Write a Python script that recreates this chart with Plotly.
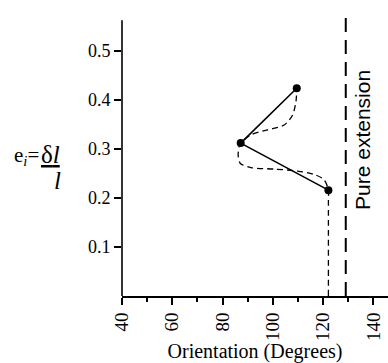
import plotly.graph_objects as go

# Data
pt_orient = [109.5, 87.2, 122.1]
pt_strain = [0.424, 0.312, 0.216]

curve_orient = [122.1, 122.1, 122.1, 120.4, 116.5, 109.8, 100.6, 91.3, 87.0, 86.2, 86.6, 87.2,
                91.3, 97.9, 104.5, 107.8, 109.2, 109.5]
curve_strain = [0.0, 0.196, 0.216, 0.237, 0.248, 0.255, 0.259, 0.262, 0.271, 0.288, 0.305, 0.312,
                0.329, 0.339, 0.349, 0.369, 0.397, 0.424]

pure_extension = 129
x_ticks = [40, 60, 80, 100, 120, 140]
y_ticks = [0.1, 0.2, 0.3, 0.4, 0.5]

serif = "Liberation Serif, Times New Roman, serif"

W, H = 388, 363
L, R, T, B = 122, 0, 12, 67
PW, PH = W - L - R, H - T - B


def px(x):
    return (x - L) / PW


def py(y):
    return (H - B - y) / PH


fig = go.Figure()
fig.add_trace(go.Scatter(x=curve_orient, y=curve_strain, mode="lines",
                         line=dict(color="black", width=1.3, dash="6px,4px", shape="spline", smoothing=0.8),
                         hoverinfo="skip", showlegend=False))
fig.add_trace(go.Scatter(x=pt_orient, y=pt_strain, mode="lines+markers",
                         line=dict(color="black", width=1.6),
                         marker=dict(color="black", size=8),
                         showlegend=False))

fig.add_shape(type="line", xref="x", yref="paper", x0=pure_extension, x1=pure_extension, y0=0, y1=1,
              line=dict(color="black", width=2, dash="14px,8px"))
fig.add_shape(type="line", xref="paper", yref="y", x0=0, x1=0, y0=0, y1=0.563,
              line=dict(color="black", width=1.6))

fig.add_annotation(x=pure_extension, xref="x", xshift=16, y=0.318, yref="y",
                   text="Pure extension", textangle=-90, showarrow=False,
                   font=dict(family="Liberation Sans, Arial, sans-serif", size=21, color="black"))

fig.update_layout(
    width=W, height=H,
    margin=dict(l=L, r=R, t=T, b=B),
    paper_bgcolor="white", plot_bgcolor="white",
    font=dict(family=serif, size=18, color="black"),
    xaxis=dict(range=[40, 145.8], tickmode="array", tickvals=x_ticks, ticktext=[str(v) for v in x_ticks],
               tickangle=-90, ticks="outside", ticklen=7, tickwidth=1.5, tickcolor="black",
               showline=True, linecolor="black", linewidth=1.6, showgrid=False, zeroline=False,
               automargin=False,
               minor=dict(ticks="outside", ticklen=4, tickwidth=1.5, tickcolor="black", dtick=10, tick0=50, showgrid=False),
               title=dict(text="Orientation (Degrees)", font=dict(family=serif, size=20), standoff=6),
               tickfont=dict(family=serif, size=19, color="black")),
    yaxis=dict(range=[0, 0.5796], tickmode="array", tickvals=y_ticks, ticktext=[str(v) for v in y_ticks],
               ticks="outside", ticklen=7, tickwidth=1.5, tickcolor="black", showline=False,
               automargin=False,
               showgrid=False, zeroline=False, tickfont=dict(family=serif, size=18, color="black")),
)

# y-axis label: e_i = δl / l
fig.add_annotation(xref="paper", yref="paper", x=px(41), y=py(156), xanchor="right", yanchor="middle",
                   text="e<sub><i>i</i></sub>=", showarrow=False,
                   font=dict(family=serif, size=21, color="black"))
fig.add_annotation(xref="paper", yref="paper", x=px(39), y=py(154), xanchor="left", yanchor="middle",
                   text="<u>δ<i>l</i></u>", showarrow=False,
                   font=dict(family=serif, size=25, color="black"))
fig.add_annotation(xref="paper", yref="paper", x=px(57), y=py(180), xanchor="center", yanchor="middle",
                   text="<i>l</i>", showarrow=False,
                   font=dict(family=serif, size=25, color="black"))

fig.write_html("out.html", post_script="document.body.style.margin='0';",
               config={"displayModeBar": False})
